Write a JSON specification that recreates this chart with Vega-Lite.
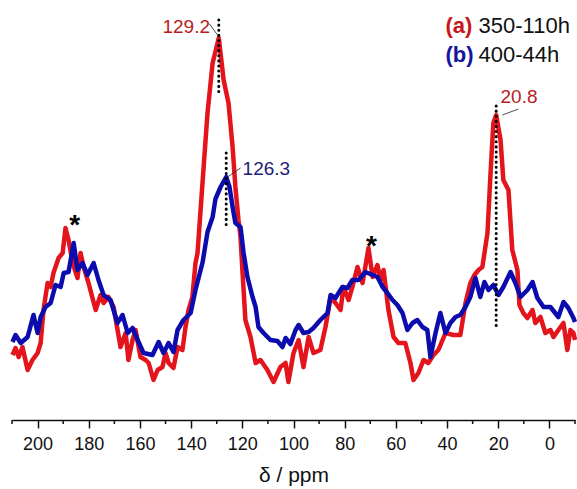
{
  "$schema": "https://vega.github.io/schema/vega-lite/v6.json",
  "width": 563,
  "height": 420,
  "autosize": {"type": "none"},
  "padding": {"left": 12, "top": 0, "right": 2, "bottom": 69},
  "background": "white",
  "config": {"view": {"stroke": null}, "font": "Liberation Sans"},
  "datasets": {
    "a": [
      {"p":209.8,"i":65},{"p":208.6,"i":72},{"p":207.4,"i":63},{"p":205.9,"i":73},{"p":203.9,"i":50},{"p":202.0,"i":60},{"p":200.0,"i":67},{"p":198.8,"i":77},{"p":197.7,"i":110},{"p":196.1,"i":137},{"p":194.9,"i":133},{"p":193.8,"i":147},{"p":191.8,"i":162},{"p":190.2,"i":167},{"p":189.1,"i":192},{"p":187.9,"i":180},{"p":186.3,"i":157},{"p":184.4,"i":142},{"p":183.2,"i":167},{"p":182.0,"i":153},{"p":180.1,"i":137},{"p":177.3,"i":110},{"p":175.4,"i":125},{"p":174.2,"i":117},{"p":172.3,"i":123},{"p":170.3,"i":113},{"p":167.6,"i":73},{"p":165.6,"i":87},{"p":164.5,"i":60},{"p":162.9,"i":80},{"p":161.7,"i":90},{"p":159.8,"i":63},{"p":157.8,"i":60},{"p":156.6,"i":57},{"p":154.7,"i":40},{"p":153.1,"i":50},{"p":151.2,"i":53},{"p":150.0,"i":67},{"p":148.8,"i":57},{"p":146.9,"i":52},{"p":145.3,"i":73},{"p":143.4,"i":70},{"p":142.2,"i":93},{"p":141.0,"i":110},{"p":139.5,"i":123},{"p":138.3,"i":157},{"p":137.5,"i":167},{"p":135.2,"i":250},{"p":133.6,"i":307},{"p":131.6,"i":357},{"p":129.2,"i":382},{"p":127.3,"i":340},{"p":125.4,"i":317},{"p":123.8,"i":273},{"p":122.7,"i":233},{"p":121.5,"i":200},{"p":120.7,"i":183},{"p":119.9,"i":147},{"p":118.8,"i":100},{"p":116.8,"i":83},{"p":114.8,"i":57},{"p":112.9,"i":60},{"p":110.2,"i":50},{"p":107.8,"i":38},{"p":105.1,"i":53},{"p":103.1,"i":57},{"p":102.0,"i":38},{"p":100.0,"i":67},{"p":98.0,"i":80},{"p":96.1,"i":53},{"p":94.1,"i":83},{"p":92.2,"i":67},{"p":89.5,"i":70},{"p":87.5,"i":93},{"p":85.5,"i":123},{"p":83.6,"i":117},{"p":81.6,"i":110},{"p":80.5,"i":133},{"p":78.5,"i":120},{"p":77.0,"i":133},{"p":75.0,"i":153},{"p":73.0,"i":137},{"p":70.7,"i":172},{"p":69.1,"i":143},{"p":67.2,"i":155},{"p":66.0,"i":140},{"p":64.8,"i":150},{"p":62.9,"i":110},{"p":60.9,"i":83},{"p":59.0,"i":77},{"p":56.3,"i":77},{"p":54.3,"i":57},{"p":53.1,"i":40},{"p":51.2,"i":47},{"p":49.2,"i":60},{"p":47.3,"i":57},{"p":45.3,"i":65},{"p":43.4,"i":70},{"p":40.6,"i":87},{"p":37.5,"i":85},{"p":34.8,"i":85},{"p":32.8,"i":117},{"p":30.9,"i":137},{"p":29.3,"i":145},{"p":27.7,"i":150},{"p":26.2,"i":153},{"p":24.2,"i":187},{"p":23.0,"i":247},{"p":21.9,"i":297},{"p":20.8,"i":305},{"p":19.1,"i":280},{"p":18.0,"i":240},{"p":16.0,"i":230},{"p":14.5,"i":170},{"p":12.5,"i":150},{"p":11.7,"i":115},{"p":10.2,"i":107},{"p":8.6,"i":102},{"p":6.6,"i":110},{"p":5.5,"i":97},{"p":3.5,"i":103},{"p":1.6,"i":87},{"p":-0.4,"i":90},{"p":-1.6,"i":83},{"p":-3.5,"i":90},{"p":-5.5,"i":97},{"p":-7.0,"i":70},{"p":-8.2,"i":90},{"p":-9.4,"i":87},{"p":-10.0,"i":80}
    ],
    "b": [
      {"p":209.8,"i":78},{"p":208.6,"i":85},{"p":206.6,"i":77},{"p":203.9,"i":83},{"p":201.6,"i":105},{"p":200.0,"i":87},{"p":198.8,"i":103},{"p":196.9,"i":113},{"p":194.9,"i":117},{"p":193.0,"i":135},{"p":191.0,"i":133},{"p":189.8,"i":147},{"p":187.9,"i":148},{"p":185.9,"i":177},{"p":184.4,"i":150},{"p":182.4,"i":157},{"p":180.5,"i":145},{"p":178.1,"i":157},{"p":176.2,"i":140},{"p":174.2,"i":125},{"p":171.5,"i":120},{"p":168.8,"i":97},{"p":166.8,"i":105},{"p":164.8,"i":87},{"p":162.9,"i":92},{"p":160.9,"i":80},{"p":158.6,"i":67},{"p":155.1,"i":65},{"p":152.7,"i":78},{"p":150.8,"i":67},{"p":148.8,"i":77},{"p":146.9,"i":68},{"p":145.3,"i":90},{"p":143.0,"i":100},{"p":140.2,"i":107},{"p":138.3,"i":130},{"p":135.5,"i":158},{"p":133.6,"i":188},{"p":131.6,"i":203},{"p":130.5,"i":221},{"p":128.5,"i":233},{"p":126.3,"i":243},{"p":125.0,"i":233},{"p":123.8,"i":213},{"p":122.7,"i":197},{"p":120.7,"i":193},{"p":119.5,"i":167},{"p":118.0,"i":143},{"p":116.0,"i":123},{"p":114.8,"i":113},{"p":113.7,"i":93},{"p":111.7,"i":87},{"p":109.0,"i":80},{"p":106.3,"i":79},{"p":104.3,"i":73},{"p":103.1,"i":82},{"p":101.2,"i":76},{"p":99.2,"i":90},{"p":98.0,"i":95},{"p":96.1,"i":87},{"p":94.1,"i":88},{"p":92.2,"i":92},{"p":89.5,"i":100},{"p":86.7,"i":107},{"p":85.5,"i":125},{"p":83.6,"i":122},{"p":80.9,"i":133},{"p":78.9,"i":132},{"p":77.0,"i":140},{"p":74.6,"i":140},{"p":71.9,"i":148},{"p":69.1,"i":145},{"p":67.2,"i":143},{"p":65.2,"i":133},{"p":63.3,"i":127},{"p":61.3,"i":120},{"p":59.4,"i":115},{"p":57.4,"i":107},{"p":55.5,"i":90},{"p":53.5,"i":97},{"p":51.6,"i":100},{"p":49.6,"i":93},{"p":47.7,"i":90},{"p":46.5,"i":63},{"p":44.5,"i":87},{"p":42.6,"i":107},{"p":40.6,"i":87},{"p":38.7,"i":97},{"p":36.7,"i":103},{"p":34.8,"i":105},{"p":32.8,"i":113},{"p":30.9,"i":123},{"p":28.9,"i":142},{"p":27.0,"i":123},{"p":25.4,"i":138},{"p":23.8,"i":130},{"p":21.9,"i":135},{"p":19.9,"i":125},{"p":18.0,"i":133},{"p":15.2,"i":148},{"p":13.3,"i":137},{"p":11.3,"i":123},{"p":8.6,"i":130},{"p":6.6,"i":138},{"p":4.7,"i":122},{"p":2.3,"i":113},{"p":-0.4,"i":113},{"p":-3.5,"i":103},{"p":-5.5,"i":118},{"p":-7.4,"i":112},{"p":-9.4,"i":102},{"p":-10.0,"i":98}
    ],
    "minor": [
      {"p":210,"i":0,"i2":-4},{"p":190,"i":0,"i2":-4},{"p":170,"i":0,"i2":-4},{"p":150,"i":0,"i2":-4},{"p":130,"i":0,"i2":-4},{"p":110,"i":0,"i2":-4},{"p":90,"i":0,"i2":-4},{"p":70,"i":0,"i2":-4},{"p":50,"i":0,"i2":-4},{"p":30,"i":0,"i2":-4},{"p":10,"i":0,"i2":-4},{"p":-10,"i":0,"i2":-4}
    ],
    "dots": [
      {"p":129.2,"i1":400,"i2":327},
      {"p":126.3,"i1":267,"i2":193},
      {"p":20.8,"i1":314,"i2":93}
    ],
    "leaders": [
      {"p":132.8,"p2":129.7,"i":396,"i2":385},
      {"p":120.7,"p2":125.8,"i":252,"i2":243},
      {"p":12.1,"p2":18.4,"i":311,"i2":305}
    ],
    "labels": [
      {"t":"129.2","p":151.2,"i":387,"c":"#b81c22","s":19},
      {"t":"126.3","p":119.9,"i":245,"c":"#1e1e78","s":19},
      {"t":"20.8","p":19.1,"i":317,"c":"#b81c22","s":19},
      {"t":"350-110h","p":27.7,"i":387,"c":"#111111","s":22},
      {"t":"400-44h","p":27.7,"i":358,"c":"#111111","s":22}
    ],
    "legend": [
      {"t":"(a)","p":40.6,"i":387,"c":"#cc1518"},
      {"t":"(b)","p":40.6,"i":358,"c":"#14149c"}
    ],
    "stars": [
      {"t":"*","p":185.5,"i":186},
      {"t":"*","p":69.5,"i":165}
    ]
  },
  "layer": [
    {
      "data": {"name": "a"},
      "mark": {"type": "line", "color": "#e3141b", "strokeWidth": 4.5, "strokeJoin": "round"},
      "encoding": {
        "x": {"field": "p", "type": "quantitative",
          "scale": {"domain": [210, -10], "nice": false, "zero": false},
          "axis": {
            "title": "δ / ppm",
            "titleFontSize": 21, "titleFontWeight": "normal", "titleColor": "#111111", "titlePadding": 11,
            "values": [200,180,160,140,120,100,80,60,40,20,0],
            "labelFontSize": 18, "labelColor": "#111111", "labelPadding": 7,
            "labelFlush": false, "labelOverlap": false,
            "domainColor": "#111111", "domainWidth": 1.5,
            "tickColor": "#111111", "tickWidth": 1.5, "tickSize": 8,
            "grid": false
          }},
        "y": {"field": "i", "type": "quantitative", "scale": {"domain": [0, 420], "nice": false, "zero": false}, "axis": null}
      }
    },
    {
      "data": {"name": "b"},
      "mark": {"type": "line", "color": "#0c0cae", "strokeWidth": 4.5, "strokeJoin": "round"},
      "encoding": {
        "x": {"field": "p", "type": "quantitative"},
        "y": {"field": "i", "type": "quantitative"}
      }
    },
    {
      "data": {"name": "minor"},
      "mark": {"type": "rule", "color": "#111111", "strokeWidth": 1.5},
      "encoding": {
        "x": {"field": "p", "type": "quantitative"},
        "y": {"field": "i", "type": "quantitative"},
        "y2": {"field": "i2"}
      }
    },
    {
      "data": {"name": "dots"},
      "mark": {"type": "rule", "color": "#000000", "strokeWidth": 3, "strokeDash": [0.1, 5], "strokeCap": "round"},
      "encoding": {
        "x": {"field": "p", "type": "quantitative"},
        "y": {"field": "i1", "type": "quantitative"},
        "y2": {"field": "i2"}
      }
    },
    {
      "data": {"name": "leaders"},
      "mark": {"type": "rule", "color": "#222222", "strokeWidth": 0.8},
      "encoding": {
        "x": {"field": "p", "type": "quantitative"},
        "x2": {"field": "p2"},
        "y": {"field": "i", "type": "quantitative"},
        "y2": {"field": "i2"}
      }
    },
    {
      "data": {"name": "labels"},
      "mark": {"type": "text", "align": "left", "baseline": "alphabetic"},
      "encoding": {
        "x": {"field": "p", "type": "quantitative"},
        "y": {"field": "i", "type": "quantitative"},
        "text": {"field": "t"},
        "color": {"field": "c", "type": "nominal", "scale": null},
        "size": {"field": "s", "type": "quantitative", "scale": null}
      }
    },
    {
      "data": {"name": "legend"},
      "mark": {"type": "text", "align": "left", "baseline": "alphabetic", "fontSize": 22, "fontWeight": "bold"},
      "encoding": {
        "x": {"field": "p", "type": "quantitative"},
        "y": {"field": "i", "type": "quantitative"},
        "text": {"field": "t"},
        "color": {"field": "c", "type": "nominal", "scale": null}
      }
    },
    {
      "data": {"name": "stars"},
      "mark": {"type": "text", "align": "center", "baseline": "alphabetic", "fontSize": 28, "fontWeight": "bold", "color": "#000000"},
      "encoding": {
        "x": {"field": "p", "type": "quantitative"},
        "y": {"field": "i", "type": "quantitative"},
        "text": {"field": "t"}
      }
    }
  ]
}
